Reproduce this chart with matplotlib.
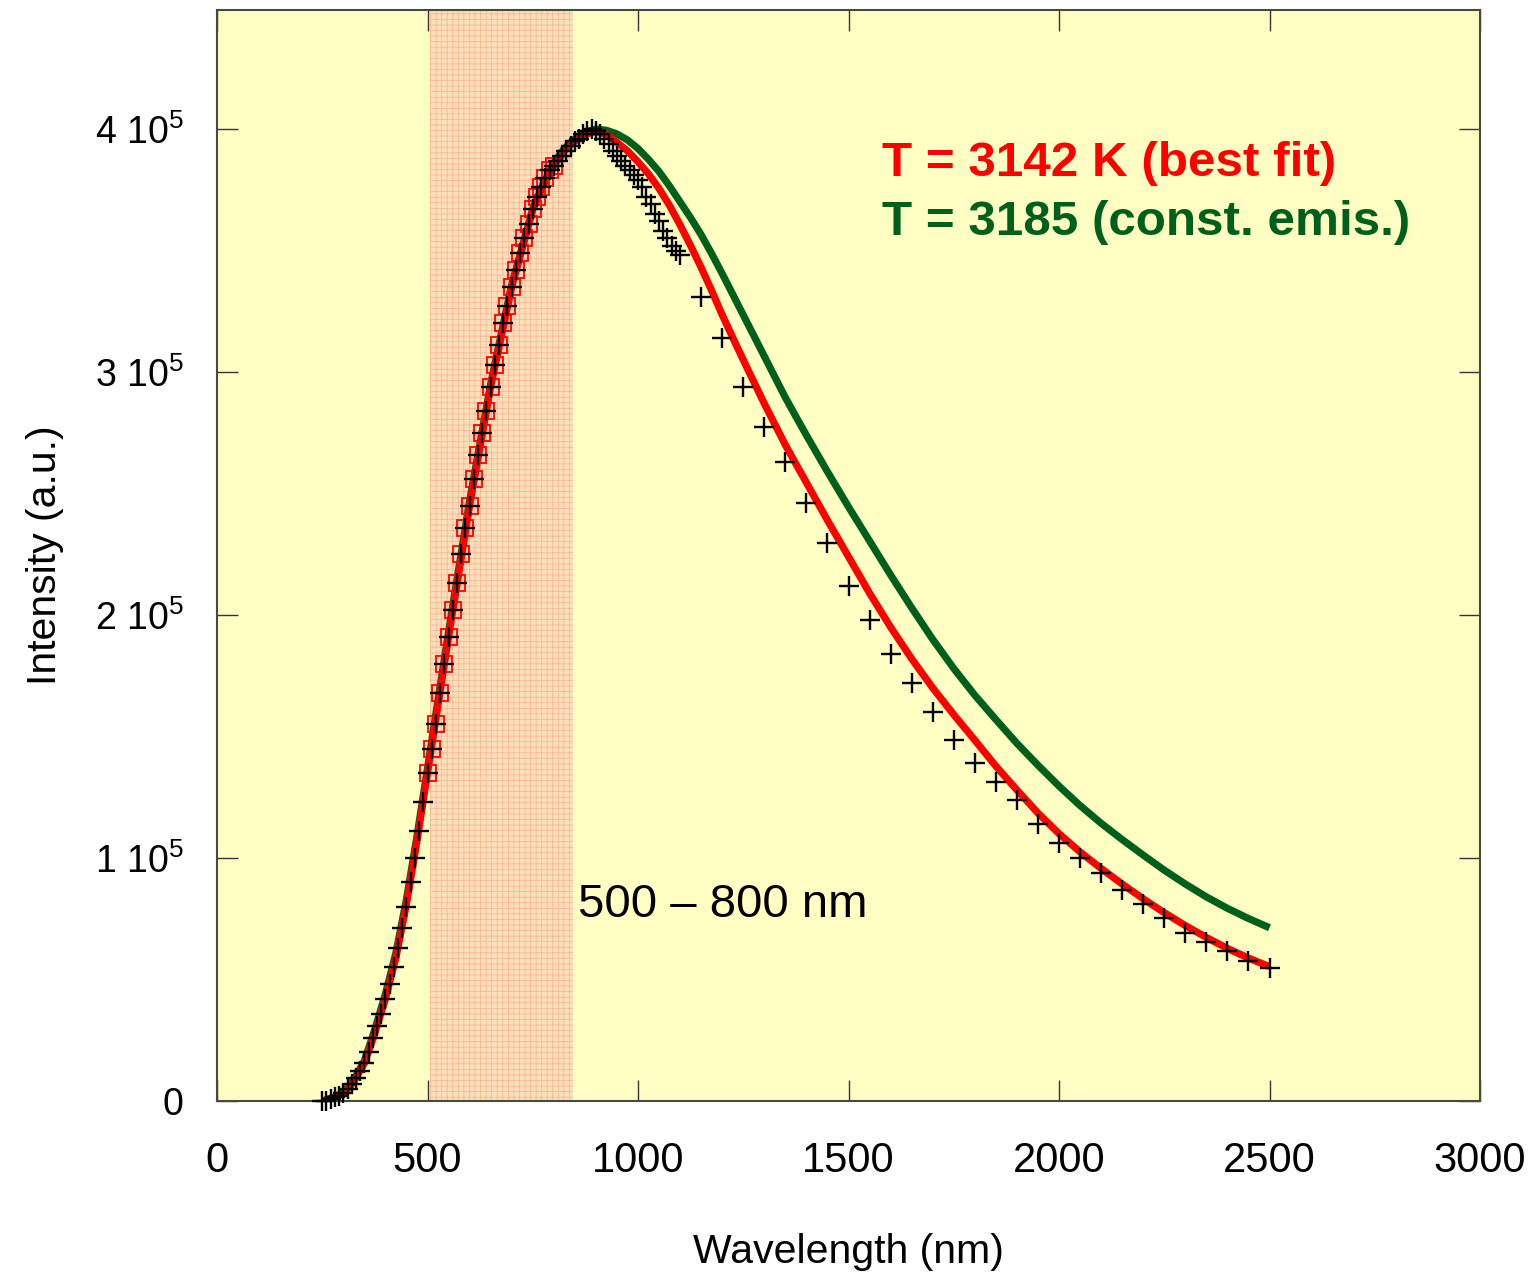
import matplotlib
matplotlib.use("Agg")
import matplotlib.pyplot as plt
from matplotlib.ticker import FuncFormatter, MultipleLocator

plt.rcParams['font.family'] = ['Liberation Sans', 'DejaVu Sans']
plt.rcParams['mathtext.fontset'] = 'custom'
plt.rcParams['mathtext.rm'] = 'Liberation Sans'
plt.rcParams['mathtext.it'] = 'Liberation Sans'
plt.rcParams['hatch.linewidth'] = 0.5

# ---- measured data (wavelength nm, intensity in units of 1e5) ----
data_wl = [250, 260, 270, 280, 290, 300, 310, 320, 330, 340, 350, 360, 370, 380, 390,
           400, 410, 420, 430, 440, 450, 460, 470, 480, 490, 500, 510, 520, 530, 540,
           550, 560, 570, 580, 590, 600, 610, 620, 630, 640, 650, 660, 670, 680, 690,
           700, 710, 720, 730, 740, 750, 760, 770, 780, 790, 800, 810, 820, 830, 840,
           850, 860, 870, 880, 890, 900, 910, 920, 930, 940, 950, 960, 970, 980, 990,
           1000, 1010, 1020, 1030, 1040, 1050, 1060, 1070, 1080, 1090, 1100,
           1150, 1200, 1250, 1300, 1350, 1400, 1450, 1500, 1550, 1600, 1650, 1700,
           1750, 1800, 1850, 1900, 1950, 2000, 2050, 2100, 2150, 2200, 2250, 2300,
           2350, 2400, 2450, 2500]
data_int = [0.00, 0.00, 0.008, 0.015, 0.022, 0.032, 0.048, 0.07, 0.095, 0.123, 0.155, 0.20, 0.26, 0.31, 0.36,
            0.42, 0.48, 0.55, 0.63, 0.71, 0.80, 0.90, 1.00, 1.11, 1.23, 1.35, 1.45, 1.55, 1.68, 1.80,
            1.91, 2.02, 2.13, 2.25, 2.36, 2.45, 2.56, 2.66, 2.75, 2.84, 2.94, 3.03, 3.11, 3.20, 3.27,
            3.35, 3.42, 3.49, 3.55, 3.61, 3.67, 3.72, 3.76, 3.80, 3.83, 3.85, 3.87, 3.89, 3.91, 3.93,
            3.95, 3.96, 3.98, 3.99, 4.00, 3.99, 3.98, 3.96, 3.94, 3.91, 3.89, 3.87, 3.85, 3.83, 3.81,
            3.79, 3.76, 3.72, 3.69, 3.65, 3.62, 3.58, 3.55, 3.52, 3.50, 3.48,
            3.31, 3.14, 2.94, 2.775, 2.63, 2.46, 2.295, 2.12, 1.98, 1.84, 1.72, 1.60,
            1.486, 1.39, 1.314, 1.239, 1.14, 1.06, 1.00, 0.937, 0.868, 0.811, 0.752, 0.693,
            0.656, 0.619, 0.577, 0.546]

# ---- fit curves (wavelength nm, intensity in units of 1e5) ----
fit_wl = [250, 275, 300, 325, 350, 375, 400, 425, 450, 475, 500, 550, 600, 650, 700, 750,
          775, 800, 825, 850, 875, 900, 925, 950, 975, 1000, 1025, 1050, 1075, 1100,
          1125, 1150, 1175, 1200, 1225, 1250, 1275, 1300, 1325, 1350, 1375, 1400,
          1450, 1500, 1550, 1600, 1650, 1700, 1750, 1800, 1850, 1900, 1950, 2000,
          2050, 2100, 2150, 2200, 2250, 2300, 2350, 2400, 2450, 2500]
red_fit = [0.0, 0.012, 0.03, 0.08, 0.155, 0.28, 0.42, 0.59, 0.81, 1.07, 1.35, 1.91, 2.45, 2.94, 3.35, 3.67,
           3.77, 3.85, 3.91, 3.95, 3.978, 3.99, 3.978, 3.945, 3.91, 3.865, 3.815, 3.755, 3.685, 3.605,
           3.52, 3.43, 3.335, 3.235, 3.142, 3.05, 2.96, 2.87, 2.785, 2.70, 2.622, 2.545,
           2.39, 2.24, 2.09, 1.95, 1.82, 1.70, 1.59, 1.485, 1.378, 1.28, 1.185, 1.10,
           1.025, 0.957, 0.893, 0.832, 0.775, 0.722, 0.673, 0.628, 0.588, 0.553]
green_fit = [0.0, 0.014, 0.035, 0.088, 0.165, 0.295, 0.44, 0.61, 0.83, 1.09, 1.37, 1.93, 2.47, 2.95, 3.36, 3.67,
             3.775, 3.86, 3.92, 3.96, 3.988, 4.00, 3.995, 3.98, 3.955, 3.92, 3.875, 3.825, 3.765, 3.70,
             3.635, 3.565, 3.487, 3.405, 3.32, 3.235, 3.15, 3.065, 2.98, 2.895, 2.817, 2.74,
             2.59, 2.445, 2.305, 2.165, 2.03, 1.90, 1.78, 1.67, 1.57, 1.472, 1.382, 1.296,
             1.216, 1.143, 1.076, 1.012, 0.95, 0.893, 0.84, 0.793, 0.751, 0.713]

fit_window = (500, 800)       # data points marked with squares
shade_band = (505, 845)       # shaded region
UNIT = 1e5

red_label = "T = 3142 K (best fit)"
green_label = "T = 3185 (const. emis.)"
band_label = "500 \u2013 800 nm"

RED = '#FF0000'
GREEN = '#00601A'

fig = plt.figure(figsize=(15.37, 12.74), dpi=100)
ax = fig.add_axes([217/1537, 1 - 1101/1274, (1480 - 217)/1537, (1101 - 10)/1274])
ax.set_facecolor('#FFFFC4')

ax.axvspan(shade_band[0], shade_band[1], facecolor='#FDDFBC', edgecolor='#F7B48C',
           hatch='+++', linewidth=0, zorder=1)

ax.plot(fit_wl, [v * UNIT for v in green_fit], color=GREEN, lw=5.2, zorder=3,
        solid_capstyle='butt', solid_joinstyle='round')
ax.plot(fit_wl, [v * UNIT for v in red_fit], color=RED, lw=5.2, zorder=4,
        solid_capstyle='butt', solid_joinstyle='round')

sq_x = [w for w in data_wl if fit_window[0] <= w <= fit_window[1]]
sq_y = [v * UNIT for w, v in zip(data_wl, data_int) if fit_window[0] <= w <= fit_window[1]]
ax.plot(sq_x, sq_y, ls='none', marker='s', ms=11, mfc='none', mec=RED, mew=1.3, zorder=5,
        clip_on=False)
ax.plot(data_wl, [v * UNIT for v in data_int], ls='none', marker='+', ms=15, mew=1.7,
        color='black', zorder=6, clip_on=False)

ax.set_xlim(0, 3000)
ax.set_ylim(0, 4.49e5)
ax.xaxis.set_major_locator(MultipleLocator(500))
ax.yaxis.set_major_locator(MultipleLocator(1e5))


def yfmt(v, pos):
    n = int(round(v / 1e5))
    if n == 0:
        return "0"
    return r"$\mathregular{%d\ 10^{5}}$" % n


ax.yaxis.set_major_formatter(FuncFormatter(yfmt))
ax.tick_params(direction='in', length=15, width=1.0, top=True, right=True, color='#333333')
ax.tick_params(axis='x', labelsize=30, pad=29)
ax.tick_params(axis='y', labelsize=27, pad=24)
for sp in ax.spines.values():
    sp.set_color('#4a4a3a')
    sp.set_linewidth(1.5)

ax.set_xlabel("Wavelength (nm)", fontsize=29.5, labelpad=37)
ax.set_ylabel("Intensity (a.u.)", fontsize=29.5, labelpad=22)

ax.text(1579, 3.86e5, red_label, color=RED, fontsize=35.6, fontweight='bold',
        va='center', ha='left', zorder=7)
ax.text(1579, 3.617e5, green_label, color=GREEN, fontsize=35.6, fontweight='bold',
        va='center', ha='left', zorder=7)
ax.text(857, 0.807e5, band_label, color='black', fontsize=34, va='center', ha='left', zorder=7)

fig.savefig("out.png", dpi=100, facecolor='white')
